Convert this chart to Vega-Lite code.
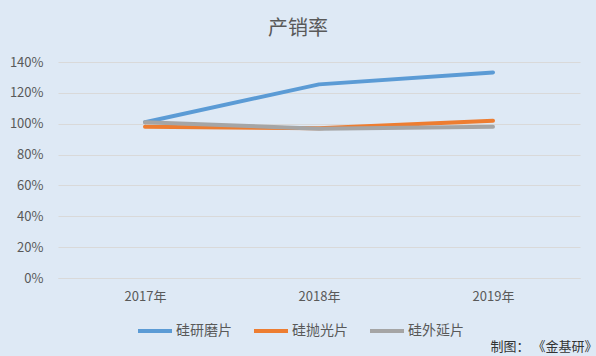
{
  "$schema": "https://vega.github.io/schema/vega-lite/v6.json",
  "autosize": "none",
  "width": 522,
  "height": 216,
  "padding": {"left": 58, "top": 62, "right": 16, "bottom": 78},
  "background": "#DEE9F5",
  "title": {
    "text": "产销率",
    "font": "Noto Sans CJK SC",
    "fontSize": 20,
    "fontWeight": "normal",
    "color": "#595959",
    "anchor": "middle",
    "dx": -21,
    "offset": 17
  },
  "config": {
    "view": {"stroke": null},
    "font": "Noto Sans CJK SC"
  },
  "data": {
    "values": [
      {"year": "2017年", "series": "硅研磨片", "v": 1.01},
      {"year": "2018年", "series": "硅研磨片", "v": 1.255},
      {"year": "2019年", "series": "硅研磨片", "v": 1.332},
      {"year": "2017年", "series": "硅抛光片", "v": 0.98},
      {"year": "2018年", "series": "硅抛光片", "v": 0.97},
      {"year": "2019年", "series": "硅抛光片", "v": 1.02},
      {"year": "2017年", "series": "硅外延片", "v": 1.01},
      {"year": "2018年", "series": "硅外延片", "v": 0.968},
      {"year": "2019年", "series": "硅外延片", "v": 0.98}
    ]
  },
  "mark": {"type": "line", "strokeWidth": 4, "strokeCap": "round", "strokeJoin": "round"},
  "encoding": {
    "x": {
      "field": "year",
      "type": "ordinal",
      "scale": {"type": "point", "padding": 0.5},
      "axis": {
        "labelAngle": 0,
        "labelFontSize": 13,
        "labelColor": "#595959",
        "labelPadding": 12,
        "ticks": false,
        "domainColor": "#D9D9D9",
        "title": "制图： 《金基研》",
        "titleFontSize": 13,
        "titleFontWeight": "normal",
        "titleColor": "#333333",
        "titleAnchor": "end",
        "titleAlign": "right",
        "titleBaseline": "middle",
        "titleX": 539,
        "titleY": 68
      }
    },
    "y": {
      "field": "v",
      "type": "quantitative",
      "scale": {"domain": [0, 1.4]},
      "axis": {
        "values": [0, 0.2, 0.4, 0.6, 0.8, 1.0, 1.2, 1.4],
        "format": ".0%",
        "title": null,
        "labelFontSize": 13,
        "labelColor": "#595959",
        "labelPadding": 15,
        "ticks": false,
        "domain": false,
        "gridColor": "#D9D9D9"
      }
    },
    "color": {
      "field": "series",
      "type": "nominal",
      "scale": {
        "domain": ["硅研磨片", "硅抛光片", "硅外延片"],
        "range": ["#5B9BD5", "#ED7D31", "#A5A5A5"]
      },
      "legend": {
        "title": null,
        "orient": "none",
        "direction": "horizontal",
        "legendX": 78,
        "legendY": 250,
        "symbolType": "stroke",
        "symbolSize": 1156,
        "symbolStrokeWidth": 4,
        "labelFontSize": 14,
        "labelColor": "#595959",
        "labelOffset": 2,
        "columnPadding": 14
      }
    }
  }
}
